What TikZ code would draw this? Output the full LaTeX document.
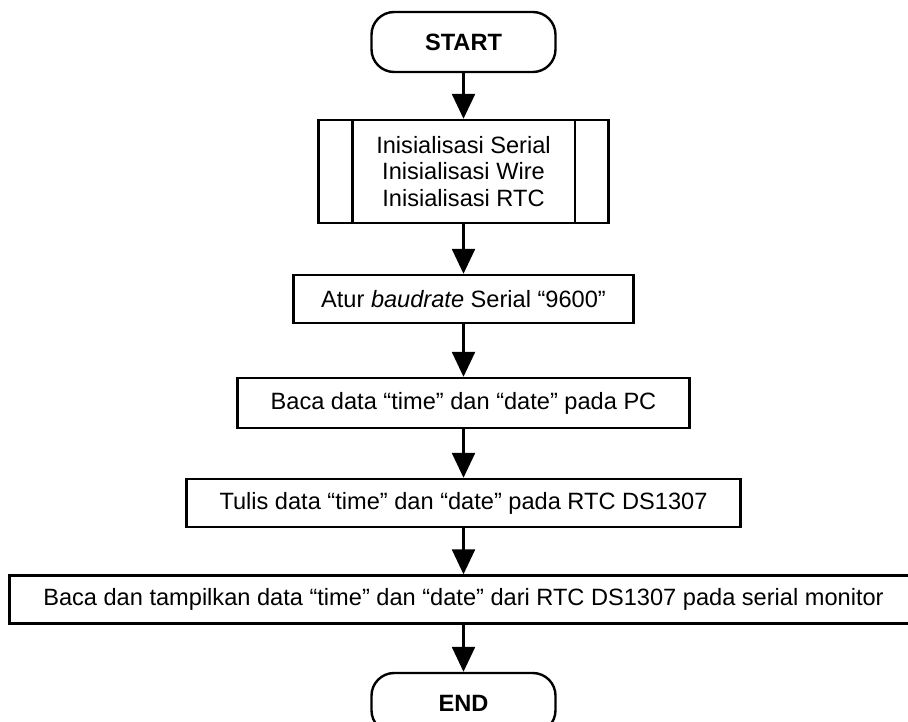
\documentclass[tikz,border=0pt]{standalone}
\usepackage{fontspec}
\setmainfont{Liberation Sans}
\usepackage{tikz}
\usetikzlibrary{arrows.meta}
\newcommand{\sidebars}[2]{\draw[line width=1.8pt] ([xshift=#2]#1.north west) -- ([xshift=#2]#1.south west) ([xshift=-#2]#1.north east) -- ([xshift=-#2]#1.south east);}
\tikzset{
  terminal/.style={draw, line width=1.8pt, rounded corners=17pt, minimum width=138pt, minimum height=45pt, inner sep=0pt, font=\fontsize{17.7}{20}\selectfont\bfseries},
  process/.style={draw, line width=1.8pt, minimum height=36pt, inner sep=0pt, align=center},
  flow/.style={line width=1.8pt, -{Triangle[length=18.75pt,width=17.25pt]}}
}

\begin{document}
\begin{tikzpicture}[x=0.75pt, y=-0.75pt, font=\fontsize{17.7}{20}\selectfont]
        \useasboundingbox (0,0) rectangle (908,722);
        % terminals and steps
        \node[terminal] (start) at (463.5,42) {START};
        \node[process, minimum width=217.5pt, minimum height=77.25pt] (init) at (463.5,171.5)
            {Inisialisasi Serial\\Inisialisasi Wire\\Inisialisasi RTC};
        \sidebars{init}{26.25pt}
        \node[process, minimum width=255pt] (baud) at (463.5,299) {Atur \textit{baudrate} Serial “9600”};
        \node[process, minimum width=339pt, minimum height=37.5pt] (readpc) at (463.5,403) {Baca data “time” dan “date” pada PC};
        \node[process, minimum width=415.5pt] (writertc) at (463.5,503) {Tulis data “time” dan “date” pada RTC DS1307};
        \node[process, minimum width=681pt] (show) at (463.5,599.5) {Baca dan tampilkan data “time” dan “date” dari RTC DS1307 pada serial monitor};
        \node[terminal] (end) at (463.5,703) {END};
        % arrows
        \draw[flow] (start) -- (init);
        \draw[flow] (init) -- (baud);
        \draw[flow] (baud) -- (readpc);
        \draw[flow] (readpc) -- (writertc);
        \draw[flow] (writertc) -- (show);
        \draw[flow] (show) -- (end);
    \end{tikzpicture}
\end{document}
